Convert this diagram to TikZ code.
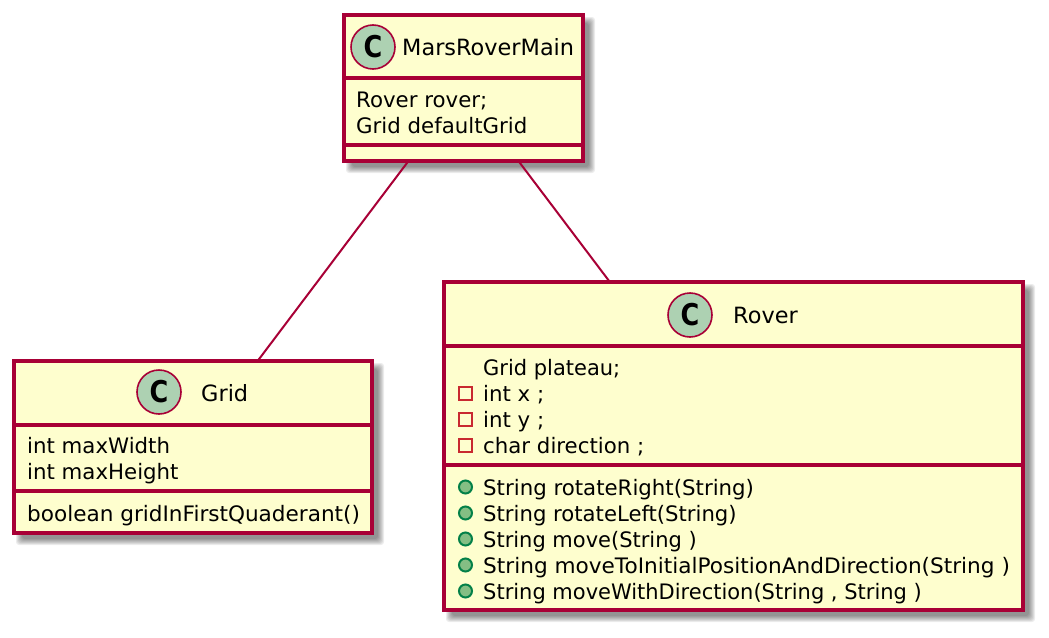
\documentclass[tikz,border=0pt]{standalone}
\usepackage{fontspec}
\setmainfont{DejaVu Sans}
\definecolor{umlborder}{HTML}{A80036}
\definecolor{umlfill}{HTML}{FEFECE}
\definecolor{spotfill}{HTML}{ADD1B2}
\definecolor{pubfill}{HTML}{84BE84}
\definecolor{publine}{HTML}{038048}
\definecolor{privline}{HTML}{C82930}
\newcommand{\softshadow}[4]{%
  \foreach \g in {0,1,...,6}{
    \fill[black,opacity=0.075,rounded corners=3pt]
      (#1+2+\g,#2+2+\g) rectangle (#3+12-\g,#4+12-\g);
  }}
\tikzset{
  x=1pt,y=-1pt,
  classbox/.style={draw=umlborder,fill=umlfill,line width=3.2pt,rectangle,inner sep=0pt,outer sep=0pt},
  divider/.style={draw=umlborder,line width=3.2pt},
  assoc/.style={draw=umlborder,line width=2pt},
  spot/.style={circle,draw=umlborder,fill=spotfill,line width=1.6pt,minimum size=44pt,inner sep=0pt},
  spotletter/.style={font=\fontsize{30}{30}\selectfont\bfseries,xscale=0.85,inner sep=0pt},
  label/.style={anchor=base west,inner sep=0pt,font=\fontsize{21.3}{24}\selectfont,text=black},
  titlelabel/.style={label,font=\fontsize{22.4}{24}\selectfont},
  priv/.style={draw=privline,fill=none,line width=2pt,minimum size=13pt,inner sep=0pt,rectangle},
  pub/.style={circle,draw=publine,fill=pubfill,line width=2pt,minimum size=13pt,inner sep=0pt},
}
\begin{document}
\begin{tikzpicture}
\useasboundingbox (0,0) rectangle (1049,637);
\softshadow{344}{15}{583}{161}
\softshadow{14}{361}{372}{533}
\softshadow{444}{282}{1023}{610}
% boxes
\node[classbox,minimum width=239pt,minimum height=146pt] (main) at (463.5,88) {};
\node[classbox,minimum width=358pt,minimum height=172pt] (grid) at (193,447) {};
\node[classbox,minimum width=579pt,minimum height=328pt] (rover) at (733.5,446) {};
% connectors
\draw[assoc] (main) -- (grid);
\draw[assoc] (main) -- (rover);
% dividers
\draw[divider] (main.west |- 0,78) -- (main.east |- 0,78);
\draw[divider] (main.west |- 0,145) -- (main.east |- 0,145);
\draw[divider] (grid.west |- 0,425) -- (grid.east |- 0,425);
\draw[divider] (grid.west |- 0,491) -- (grid.east |- 0,491);
\draw[divider] (rover.west |- 0,346) -- (rover.east |- 0,346);
\draw[divider] (rover.west |- 0,465) -- (rover.east |- 0,465);
% spots
\node[spot] (spotmain) at (373,47) {};
\node[spotletter] (cmain) at (373,47) {C};
\node[spot] (spotgrid) at (159,392) {};
\node[spotletter] (cgrid) at (159,392) {C};
\node[spot] (spotrover) at (690,315) {};
\node[spotletter] (crover) at (690,315) {C};
% titles
\node[titlelabel] (tmain) at (402,55) {MarsRoverMain};
\node[titlelabel] (tgrid) at (201,401) {Grid};
\node[titlelabel] (trover) at (733,323) {Rover};
% main members
\node[label] (m1) at (356,107) {Rover rover;};
\node[label] (m2) at (356,133) {Grid defaultGrid};
% grid members
\node[label] (g1) at (27,453) {int maxWidth};
\node[label] (g2) at (27,479) {int maxHeight};
\node[label,xscale=1.013] (g3) at (27,521) {boolean gridInFirstQuaderant()};
% rover members
\node[label,xscale=0.985] (r1) at (483,375) {Grid plateau;};
\node[label] (r2) at (483,401) {int x ;};
\node[label] (r3) at (483,427) {int y ;};
\node[label] (r4) at (483,453) {char direction ;};
\node[label] (r5) at (483,495) {String rotateRight(String)};
\node[label,xscale=0.995] (r6) at (483,521) {String rotateLeft(String)};
\node[label,xscale=0.985] (r7) at (483,547) {String move(String )};
\node[label,xscale=1.015] (r8) at (483,573) {String moveToInitialPositionAndDirection(String )};
\node[label,xscale=0.985] (r9) at (483,599) {String moveWithDirection(String , String )};
% visibility icons
\node[priv] (p2) at (465.5,393) {};
\node[priv] (p3) at (465.5,419) {};
\node[priv] (p4) at (465.5,445) {};
\node[pub] (v5) at (465.5,487) {};
\node[pub] (v6) at (465.5,513) {};
\node[pub] (v7) at (465.5,539) {};
\node[pub] (v8) at (465.5,565) {};
\node[pub] (v9) at (465.5,591) {};
\end{tikzpicture}
\end{document}
